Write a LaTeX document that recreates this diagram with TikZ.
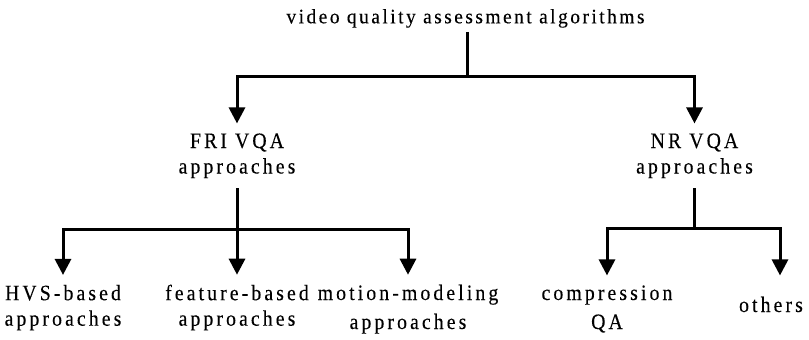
\documentclass[tikz,border=0pt]{standalone}
\usepackage{fontspec}
\setmainfont{Liberation Serif}[FakeStretch=0.9]
\newfontfamily\labelfont{Liberation Serif}[LetterSpace=14,FakeStretch=0.9,FakeBold=0.15]
\newfontfamily\titlefont{Liberation Serif}[LetterSpace=12,FakeStretch=0.95,FakeBold=0.15]
\usetikzlibrary{arrows.meta}
\tikzset{
  txt/.style={inner sep=0pt, outer sep=10pt, align=center,
    font=\labelfont\fontsize{22}{25.5}\selectfont},
  txtwide/.style={txt, font=\labelfont\fontsize{22}{29}\selectfont},
  link/.style={line width=3pt},
  tip/.style={link, -{Triangle[width=16pt,length=16pt]}},
}
\begin{document}
\begin{tikzpicture}[x=1pt,y=-1pt]
\useasboundingbox (0,0) rectangle (809,340);

% labels (anchor base = baseline of the last line)
\node[txt, anchor=base, outer sep=4.2pt, font=\titlefont\fontsize{20.5}{24}\selectfont]
  (root) at (465.5,23.3) {video quality assessment algorithms};
\node[txt, anchor=base] (fri) at (237,173.5) {FRI VQA\\approaches};
\node[txt, anchor=base] (nr) at (694.5,173.5) {NR VQA\\approaches};
\node[txt, anchor=base] (hvs) at (63,325.7) {HVS-based\\approaches};
\node[txt, anchor=base] (feat) at (237,325.7) {feature-based\\approaches};
\node[txtwide, anchor=base] (motion) at (408,329) {motion-modeling\\approaches};
\node[txtwide, anchor=base] (comp) at (607,329) {compression\\QA};
\node[txt, anchor=base, outer sep=21.3pt] (others) at (771,312) {others};

% top level
\path (root.south) ++(1.5,45) coordinate (j0);
\draw[link] (root.south -| j0) -- (j0);
\draw[tip] (j0) -| (fri.north);
\draw[tip] (j0) -| (nr.north);

% full-reference branch
\path (fri.south) ++(0,41.7) coordinate (j1);
\draw[link] (fri.south) -- (j1);
\draw[tip] (j1) -| (hvs.north);
\draw[tip] (j1) -- (feat.north);
\draw[tip] (j1) -| (motion.north);

% no-reference branch
\path (nr.south) ++(0,40.2) coordinate (j2);
\draw[link] (nr.south) -- (j2);
\draw[tip] (j2) -| (comp.north);
\draw[tip] (j2) -| ([xshift=9pt]others.north);
\end{tikzpicture}
\end{document}
